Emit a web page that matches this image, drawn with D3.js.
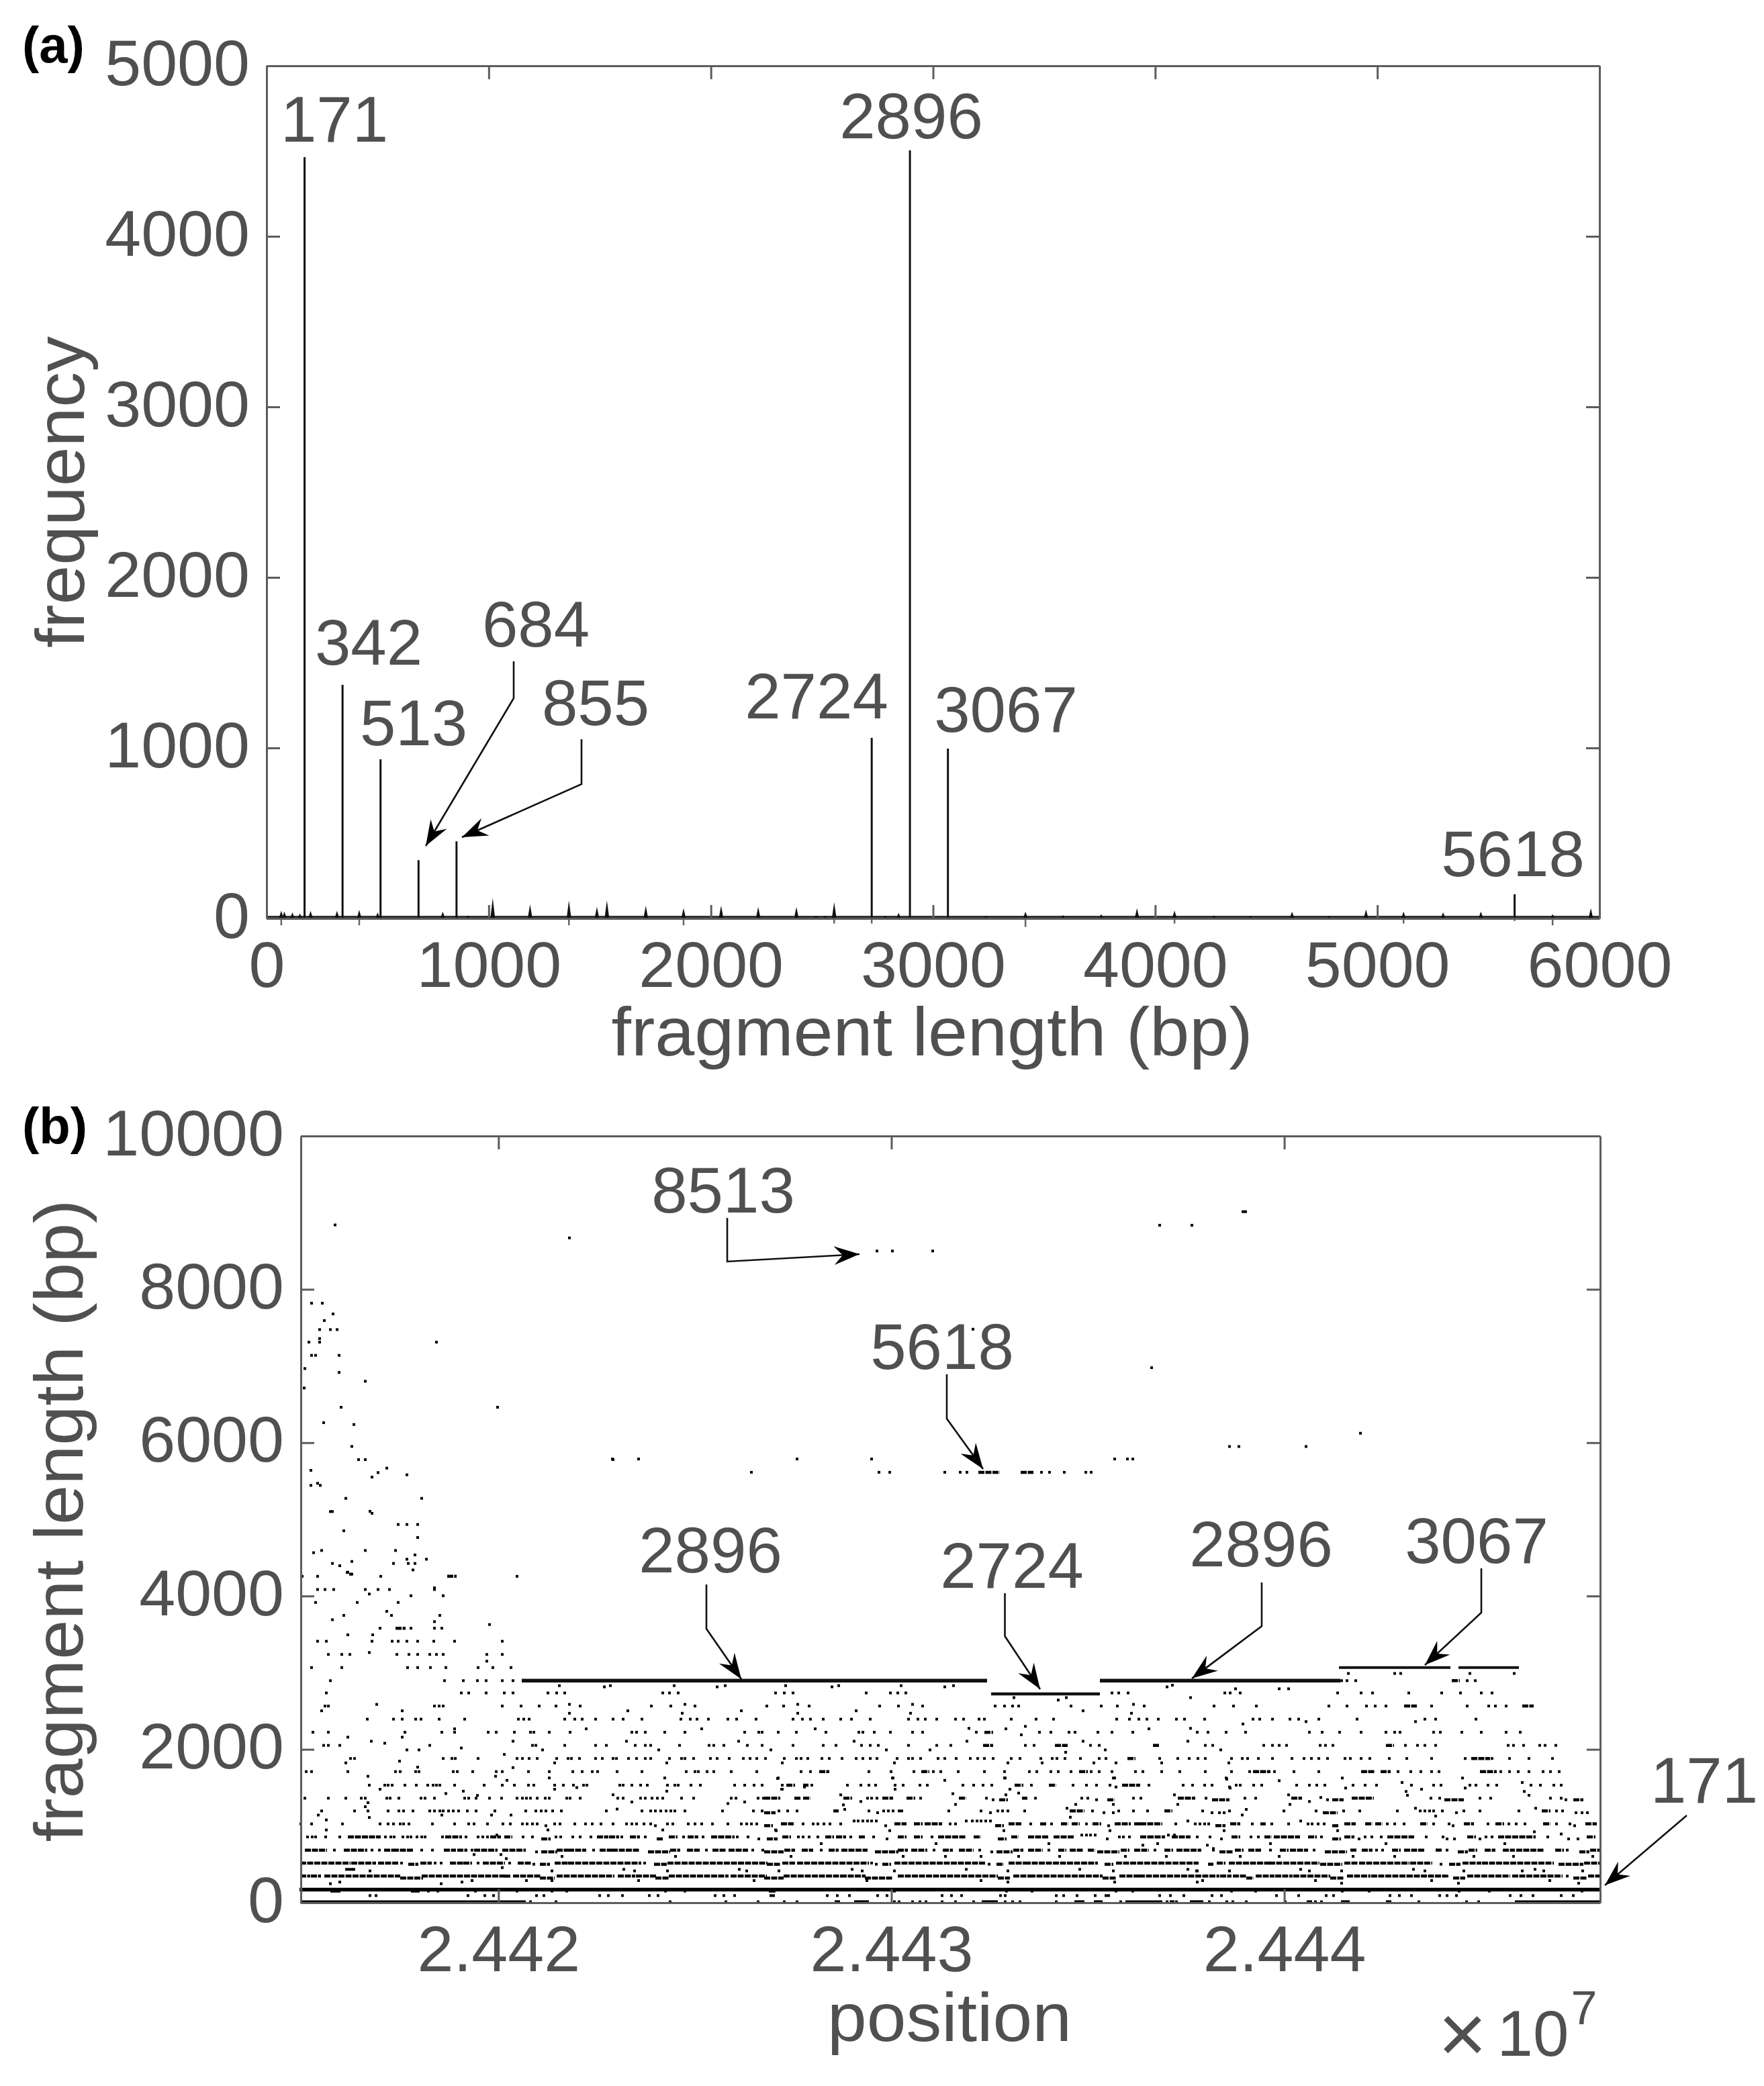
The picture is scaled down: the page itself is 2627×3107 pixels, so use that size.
<!DOCTYPE html>
<html>
<head>
<meta charset="utf-8">
<script src="https://cdn.jsdelivr.net/npm/d3@7"></script>
<style>
  body { margin: 0; background: #fff; }
  text { font-family: "Liberation Sans", Arial, sans-serif; fill: #505050; }
  .axis text { font-size: 97px; }
  .axis path, .axis line { stroke: #5c5c5c; stroke-width: 3; }
  .lab { font-size: 96px; }
  .title { font-size: 102px; }
  .panel { font-size: 76px; font-weight: bold; fill: #000; }
  .call { fill: none; stroke: #111; stroke-width: 2.6; }
</style>
</head>
<body>
<script>
var w = 2627, h = 3107;

// panel (a): tall peaks
var peakLengths = [171, 342, 513, 684, 855, 2724, 2896, 3067, 5618];
var peakFreqs = [4465, 1370, 933, 342, 452, 1059, 4504, 996, 142];
// panel (a): small peaks near the floor
var smallLengths = [66, 80, 116, 150, 198, 317, 417, 500, 793, 906, 1018, 1186, 1361, 1487, 1532, 1707, 1877, 2046, 2213, 2385, 2473, 2515, 2555, 2785, 2845, 3238, 3416, 3585, 3757, 3918, 4087, 4265, 4429, 4616, 4782, 4949, 5118, 5296, 5466, 5789, 5961];
var smallFreqs = [45, 40, 35, 30, 45, 45, 50, 35, 40, 18, 120, 83, 105, 68, 105, 75, 60, 75, 68, 68, 15, 15, 95, 15, 33, 15, 40, 20, 26, 60, 46, 18, 15, 40, 15, 52, 40, 36, 40, 26, 60];
var dipLengths = [66, 417, 1361, 1877, 2555, 2724, 3416, 4087, 5118, 5618, 5789];
var dipFreqs = [-40, -40, -40, -40, -30, -30, -50, -30, -30, -15, -40];
var floorLengths = [0, 6000];
var floorFreqs = [6, 6];

// panel (b): positions are in bins of a tenth of the 171 bp monomer, from the window start
var startPos = 24414970;
var binBp = 17.09;
var lastBin = 1935;

var plateauLengths = [2896, 2724, 2896, 3067, 3067];
var plateauStart = [329, 1028, 1190, 1546, 1724];
var plateauEnd = [1022, 1190, 1548, 1712, 1814];
var plateauWeight = [5.5, 4.5, 5.5, 4, 4];

var row0 = [[1,333],342,380,550,633,681,720,739,[797,801],[826,844],884,891,911,922,931,955,975,1002,[1016,1036],1049,1060,1071,1125,[1154,1165],[1183,1192],1221,[1230,1281],1290,[1296,1299],1304,[1326,1342],1353,1379,1388,1408,1466,[1500,1504],1511,1520,[1551,1560],[1618,1622],1665,1736,1754,[1810,1933]];
var row93 = [103,112,249,274,287,351,362,445,458,479,519,532,617,630,646,700,704,784,799,817,859,873,955,969,984,1042,1049,1125,1136,1156,1183,1199,1203,1279,1295,1315,1357,1371,1453,1486,1527,1538,1622,1636,1654,1696,1707,1721,1801,1817,1835,1877,1895];
var row152 = [[46,57],[166,175],190,204,260,322,374,396,543,572,[699,705],884,1051,1089,1214,1239,1386,1422,1551,1591,1725,1770,1908];
var row171 = [[0,1933]];
var row342 = [[1,12],[17,28],[37,146],[182,302],[305,311],[318,356],[383,465],[474,496],[501,528],[550,635],[642,692],[721,804],[806,839],[891,1036],[1063,1085],[1087,1192],[1221,1246],[1250,1366],[1371,1384],[1390,1406],[1424,1448],[1453,1475],[1480,1531],[1560,1591],[1596,1645],[1649,1703],1707,[1739,1799],[1806,1877],1886,[1919,1933]];
var row321 = [[150,180],[358,376],[530,546],[692,717],[842,880],[1040,1054],[1196,1212],[1410,1417],[1535,1551],[1718,1732],[1897,1913]];
var row517 = [[1,72],[77,110],[117,144],150,[180,193],200,209,[224,240],[244,253],264,[273,302],311,[325,342],[380,396],[400,505],512,[548,693],[719,734],[741,844],850,[886,1018],[1056,1076],[1080,1185],[1216,1335],[1366,1375],[1384,1442],[1444,1515],[1556,1573],[1578,1649],[1654,1683],[1732,1756],[1761,1864],[1913,1933]];
var row502 = [[162,173],347,[358,369],[528,543],[696,712],857,[868,877],1025,[1038,1045],[1199,1208],[1353,1357],[1520,1549],1698,[1712,1725],[1875,1908]];
var row686 = [[8,37],50,[66,97],106,117,[126,135],[139,166],180,196,[215,229],[235,246],255,[260,291],[302,333],[383,396],[400,423],436,[447,461],[465,503],[552,563],[577,592],604,[615,632],[639,664],673,688,[722,734],[748,761],775,[788,799],[807,842],[891,902],[911,931],943,[958,969],[982,1000],1011,[1063,1074],[1085,1103],1114,[1130,1138],[1147,1163],[1174,1181],[1223,1232],[1243,1261],1272,[1288,1297],[1306,1339],1359,[1393,1402],[1413,1428],1444,[1460,1469],[1475,1498],1509,[1565,1571],[1582,1594],1602,1611,[1627,1636],[1645,1672],[1692,1698],1707,[1741,1750],[1765,1777],[1792,1806],[1812,1850],[1870,1879],1886,[1922,1933]];
var row663 = [351,[360,380],[519,548],[692,717],[857,888],1029,[1038,1058],[1188,1217],[1370,1386],[1527,1556],[1725,1736],[1906,1917]];
var row858 = [10,17,22,37,58,[72,117],126,134,139,152,159,164,173,180,185,211,[217,238],246,264,271,278,[284,296],[305,313],331,345,380,387,405,416,432,[443,456],[461,472],478,[492,503],513,[550,559],570,[578,590],599,[613,644],650,666,[719,728],741,748,757,770,[783,792],[799,810],819,[833,839],853,[891,900],[915,924],940,[951,989],[1004,1011],[1060,1067],[1085,1112],[1123,1150],1219,1225,1234,[1252,1259],[1263,1285],[1299,1323],1335,1354,[1388,1397],1415,1426,[1437,1444],[1451,1486],[1502,1511],1520,[1556,1567],1585,1595,1609,[1620,1656],1676,1701,[1739,1748],1765,1774,[1785,1837],1857,[1917,1926]];
var row832 = [[360,370],[532,538],682,[696,708],873,[1040,1049],1201,1371,[1538,1547],1576,1707,1718,1756,1888,1902];
var row1028 = [0,16,62,118,130,138,148,153,161,196,229,250,258,278,301,312,330,337,345,352,378,386,408,424,434,447,465,485,493,500,511,521,546,554,577,587,597,613,636,656,664,671,679,[717,732],748,763,770,779,788,804,[886,900],[915,924],[931,953],967,975,[1056,1071],1087,[1103,1109],1118,[1134,1141],[1150,1158],1170,[1181,1190],[1214,1234],[1243,1251],[1252,1281],1303,1332,1339,1346,1352,[1386,1397],1417,[1431,1435],1446,1471,1500,1506,1515,1524,[1556,1569],[1587,1594],[1602,1609],1618,1629,1643,[1669,1676],1687,1710,[1734,1745],1768,[1781,1790],1799,1810,1823,[1852,1859],1870,1890,[1915,1928]];
var row1066 = [824,830,837,844,850,857,991,1000,1007,1013,1020,1027,1321,1489];
var row1004 = [365,528,[692,701],871,[1036,1045],1203,[1364,1375],[1538,1544],1716,1897];
var row1197 = [31,80,100,130,146,153,167,192,199,207,212,220,227,235,248,261,289,335,350,358,365,375,388,455,508,521,528,536,544,551,557,572,628,674,687,712,725,739,[795,799],846,868,875,882,891,895,965,1013,1038,1045,1053,1078,[1147,1165],1179,1218,1240,1261,[1288,1296],1343,1383,1464,1512,1553,1577,1633,1667,1674,1681,1687,1700,1732,1756,1814,[1850,1859],1870,1879];
var row1174 = [[692,705],859,1027,1196,1210,1357,1368,1375,[1524,1542],1721,1899,1908,1916];
var row1363 = [6,41,67,90,96,128,133,146,179,185,199,244,250,261,281,299,322,330,336,342,352,364,370,396,401,416,472,480,506,513,523,531,539,567,585,641,648,681,689,[692,712],[737,743],[750,757],[810,819],844,850,858,[868,880],[904,913],923,[982,989],1021,[1076,1080],1094,1163,1172,1240,1251,[1308,1330],1348,1406,1422,[1477,1489],[1567,1596],1683,1696,1756,1772,1861,1877];
var row1343 = [1031,[1042,1051],1185,[1203,1210],[1359,1381],1529,[1538,1551],[1705,1730],1884,[1897,1908]];
var row1533 = [102,125,130,136,155,172,189,197,202,207,229,273,300,318,339,347,378,391,406,421,426,475,480,493,506,516,546,557,562,581,595,646,661,675,687,717,[725,734],[750,754],761,814,834,846,856,885,897,922,933,986,1002,1016,1029,[1065,1074],1088,[1116,1123],1150,1170,1185,1205,[1225,1248],1263,1314,1328,1346,1357,1393,1399,1419,1431,1483,1502,1513,1525,1567,1585,1602,1654,1687,1698,1741,1750,1768,1781,1832,1846,1866,1877];
var row1710 = [8,16,70,141,148,171,176,227,233,256,291,300,339,370,405,419,434,442,471,508,574,587,592,605,615,641,679,745,759,[774,785],846,879,913,[926,934],942,953,979,1018,1048,1085,1096,1117,1128,1147,[1161,1170],1177,1189,1208,1243,1254,1282,1309,1347,1386,1413,[1420,1442],1450,1479,1516,[1581,1597],[1610,1621],1634,1653,1668,1684,1695,[1758,1779],1787,1800,1813,1829,1850,1861,1874];
var row1881 = [74,80,212,225,230,264,322,330,340,352,381,398,403,415,439,449,465,470,488,500,513,521,549,567,572,585,610,620,638,659,669,679,692,720,738,745,755,776,787,806,827,837,848,858,888,905,911,923,949,959,976,997,1008,1018,1031,1058,1071,1102,1119,1126,1138,1161,1189,1199,[1233,1241],1279,1306,1323,1336,1347,1386,1402,1410,1426,1447,1476,1494,1505,1516,1529,1555,1563,1579,1592,1621,1647,1684,1734,[1745,1769],1774,1800,1829,1864];
var row2052 = [34,41,58,192,345,350,393,439,455,498,513,521,564,608,615,630,665,687,733,778,797,835,848,860,905,947,968,[1018,1029],1079,1092,[1125,1140],1176,1189,[1271,1277],1347,1358,1434,1447,1457,1468,1518,1526,1537,[1618,1626],1645,1663,1674,1690,1798,1806,1821,1845,1853,1869];
var row2223 = [18,41,155,210,229,279,291,318,342,347,370,401,493,500,513,542,572,661,682,687,711,738,782,831,837,854,878,911,926,1006,[1020,1029],1100,1117,1144,1153,1187,1208,1239,1335,1351,1378,1407,1502,1521,1547,1579,1616,1629,1637,1687,1697,1729,1758,1795,1816];
var row2394 = [99,138,151,171,179,206,244,324,332,340,393,408,419,439,465,480,508,566,580,590,607,636,649,678,733,747,759,778,804,820,848,905,919,930,947,975,987,1010,1018,1058,1095,1121,1215,1234,1248,1260,1277,1304,1316,1346,1418,1428,1447,1473,1486,1516,1573,1674,1690,1750];
var row2565 = [36,41,199,206,212,300,328,355,380,416,522,551,587,694,719,757,862,890,926,1034,1048,1060,1069,1147,1192,1216,1256,1360,1389,1423,1531,1558,1587,1600,1616,[1645,1660],1684,1737,1769,1779,1795,[1821,1834]];
var row2736 = [38,239,250,276,303,316,368,381,393,539,549,562,707,720,733,842,878,889,901,1208,1218,1232,1376,1384,1399,1544,1579,1596,1650,1699,1727,1758,1774];
var row2896 = [44,214,242,263,276,300,316,1550,1558,1571,[1716,1724],1737,1749];
var row3067 = [16,61,159,174,193,216,264,286,313];
var row3238 = [41,61,73,143,161,174,192,202,212,277,300];
var row3410 = [25,38,106,136,145,158,174,198,229,300];
var row3580 = [118,[143,154],164,199,210];
var row3916 = [22,84,145];
var row4085 = [25,36,49,96,115,132,199];
var row4257 = [2,25,119,[220,230],322];
var row5614 = [671,861,877,959,982,992,[1011,1039],[1074,1089],1103,1115,1137,1169,1177];
var row5787 = [464,503,739,850,1212,1231,1239];

var rowLengths = [12, 93, 152, 171, 347, 321, 517, 502, 686, 663, 858, 832, 1028, 1066, 1004, 1197, 1174, 1363, 1343, 1533, 1710, 1881, 2052, 2223, 2394, 2565, 2736, 2896, 3067, 3238, 3410, 3580, 3916, 4085, 4257, 5614, 5787];
var rowPositions = [row0, row93, row152, row171, row342, row321, row517, row502, row686, row663, row858, row832, row1028, row1066, row1004, row1197, row1174, row1363, row1343, row1533, row1710, row1881, row2052, row2223, row2394, row2565, row2736, row2896, row3067, row3238, row3410, row3580, row3916, row4085, row4257, row5614, row5787];

// points off the periodic rows: [bin, fragment length]
var strayPoints = [
  [51,8840],[400,8671],[16,7819],[32,7819],[48,7679],[35,7593],[28,7475],[44,7475],[54,7475],[28,7358],[28,7311],[12,7311],[202,7311],[1001,7480],
  [16,7139],[22,7139],[57,7139],[6,6967],[57,6916],[96,6801],[5,6713],[60,6462],[293,6462],[34,6261],[79,6237],[1267,6978],[1578,6123],[1383,5950],[1397,5950],[1497,5950],
  [76,5951],[86,5779],[96,5779],[465,5779],[128,5668],[15,5639],[115,5610],[106,5551],[158,5581],[15,5443],[25,5470],[29,5443],[67,5274],[180,5274],
  [44,5102],[47,5102],[103,5105],[106,5079],[145,4933],[158,4933],[174,4933],[64,4851],[174,4763],[31,4594],[19,4565],[96,4594],[141,4594],[170,4536],
  [158,4480],[187,4480],[47,4425],[58,4395],[76,4451],[138,4425],[160,4425],[170,4425],[167,4340],[70,4311],[76,4285],
  [858,8500],[881,8500],[941,8500],[1279,8836],[1327,8836],[1403,9013],[1407,9013],
  [199,4107],[102,4026],[69,4307],[74,4285],[164,4004],[212,4004],[128,3800],[64,3747],[135,3747],[207,3747],[47,3691],[199,3666],[281,3628],[70,3494],[107,3494],[102,3263],[277,3150],
  [385,2831],[452,2815],[461,2831],[556,2831],[620,2815],[632,2831],[722,2831],[791,2815],[801,2831],[894,2831],[959,2815],[972,2831],[1062,2675],[1128,2643],[1140,2675],[1290,2815],[1298,2837],[1325,2675],
  [1392,2790],[1457,2790],[1471,2790],[1560,2990],[1629,2990],[1638,2990],[1741,2990],[1807,2990],
  [31,2503],[113,2587],[151,2503],[400,2587],[400,2471],[487,2503],[572,2587],[568,2471],[656,2503],[740,2587],[740,2471],[827,2503],[911,2587],[908,2471],[1165,2503],[1240,2587],[1237,2471],
  [70,2159],[151,2159],[229,2268],[425,2268],[597,2268],[766,2268],[995,2274],[1050,2268],[1073,2190],[1079,2300],[1263,2268],[1325,2274],[1403,2331],[1497,2362],[1660,2362],
  [105,2106],[125,2080],[158,1993],[176,1993],[239,2018],[316,2106],[360,1993],[485,2106],[533,1993],[652,2106],[700,1993],[824,2106],[872,1993],[937,1993],[992,2106],[1165,2106],[1198,1993],[1321,2106],[1370,1993],
  [67,1824],[147,1846],[303,1934],[378,1824],[545,1824],[717,1824],[884,1824],[1053,1824],[1104,1824],[1139,1962],[1181,1824],[1214,1824],[1282,1824],[1382,1824],
  [174,1768],[100,1649],[290,1649],[316,1762],[370,1627],[542,1627],[711,1627],[881,1627],[959,1596],[1048,1627],[1212,1627],[1378,1627],
  [118,1480],[307,1596],[242,1455],[378,1480],[411,1502],[545,1455],[716,1480],[710,1620],[717,1480],[750,1509],[882,1626],[885,1480],[1049,1626],[1056,1480],[1210,1626],[1214,1509],[1383,1509],[1379,1611],[1384,1495],[1457,1591],[1551,1626],[1556,1495],[1640,1568],[1669,1480],[1730,1626],[1734,1495],[1819,1568],
  [100,1305],[216,1424],[263,1399],[465,1408],[493,1314],[636,1293],[661,1314],[804,1407],[834,1320],[971,1422],[1050,1407],[1069,1430],[1301,1407],[1471,1407],[1502,1320],[1519,1372],[1646,1451],[1648,1401],[1822,1451],[1829,1401],
  [26,1143],[96,1252],[102,1111],[210,1143],[284,1143],[313,1143],[471,1221],[810,1217],[1141,1232],[1154,1282],[1210,1282],[808,1276],[975,1282],[1146,1115],[1306,1282],[1473,1282],[1402,1144],[1408,1217],[1660,1232],[1690,1130],[1839,1232],
  [38,1080],[38,949],[368,949],[539,949],[707,949],[708,940],[877,940],[1047,940],[1205,940],[1375,940],[1544,940],[1837,925],
  [292,882],[1163,882],[1170,882],[1176,882],[1183,882],[1292,882],[1301,882],[1877,896],
  [258,628],[298,628],[389,604],[558,604],[730,604],[897,604],[960,604],[1013,604],[1069,604],[1130,604],[1228,604],[1289,604],[1399,604],[1457,604],[1567,604],[1629,604],[1747,604],[1806,604],[1924,604],
  [775,771],[946,771],[1114,771],[1276,771],[1444,771],[1616,771],[1793,771],[1254,750],[1350,750],[1359,706],
  [68,435],[72,435],[76,435],[79,435],[481,435],[653,435],[821,435],[991,435],[1160,435],[1321,435],[1489,435],[1657,435],[1838,435],
  [103,415],[374,415],[497,415],[546,415],[664,415],[712,415],[836,415],[884,415],[1053,415],[1210,415],[1335,415],[1334,415],[1383,415],[1502,415],[1550,415],[1674,415],[1732,415],[1819,415],[1851,415],[1909,415],
  [300,458],[306,575],[255,289],[336,289],[374,289],[503,289],[675,289],[843,289],[1013,289],[1343,289],[1511,289],[1684,289],[1860,289],[1053,269],[1212,269],[1335,269],[1550,254],[1724,254],[1903,254],[44,248],[209,248],[58,269],[240,269]
];

var freqTicks = [0, 1000, 2000, 3000, 4000, 5000];
var lengthTicks = [0, 1000, 2000, 3000, 4000, 5000, 6000];
var fragTicks = [0, 2000, 4000, 6000, 8000, 10000];
var posTicks = [24420000, 24430000, 24440000];

var svg = d3.select("body").append("svg")
    .attr("width", w)
    .attr("height", h);

svg.append("rect").attr("width", w).attr("height", h).attr("fill", "#fff");

var xa = d3.scaleLinear().domain([0, 6000]).range([397, 2382]);
var ya = d3.scaleLinear().domain([0, 5000]).range([1368, 98]);
var xb = d3.scaleLinear().domain([startPos, startPos + lastBin * binBp]).range([448, 2383]);
var yb = d3.scaleLinear().domain([0, 10000]).range([2834, 1692]);
var binX = function(b) { return xb(startPos + b * binBp); };

// frame with inward ticks on all four sides
function frame(x, y, xTicks, yTicks, xFmt) {
  var x0 = x.range()[0], x1 = x.range()[1], y0 = y.range()[0], y1 = y.range()[1];
  svg.append("g").attr("class", "axis").attr("transform", "translate(0," + y0 + ")")
      .call(d3.axisBottom(x).tickValues(xTicks).tickFormat(xFmt).tickSizeInner(-20).tickSizeOuter(0).tickPadding(0))
      .selectAll("text").attr("y", 102).attr("dy", 0);
  svg.append("g").attr("class", "axis").attr("transform", "translate(0," + y1 + ")")
      .call(d3.axisTop(x).tickValues(xTicks).tickFormat("").tickSizeInner(-20).tickSizeOuter(0));
  svg.append("g").attr("class", "axis").attr("transform", "translate(" + x0 + ",0)")
      .call(d3.axisLeft(y).tickValues(yTicks).tickFormat(d3.format("d")).tickSizeInner(-20).tickSizeOuter(0).tickPadding(25))
      .selectAll("text").attr("dy", 28);
  svg.append("g").attr("class", "axis").attr("transform", "translate(" + x1 + ",0)")
      .call(d3.axisRight(y).tickValues(yTicks).tickFormat("").tickSizeInner(-20).tickSizeOuter(0));
}

// panel a marks
var floorLine = d3.line().x(function(d) { return xa(d); }).y(function(d, i) { return ya(floorFreqs[i]); });
svg.append("path").datum(floorLengths)
    .attr("d", floorLine)
    .attr("fill", "none")
    .attr("stroke", "#333")
    .attr("stroke-width", 5);

svg.append("g").selectAll("path").data(smallLengths).join("path")
    .attr("fill", "#111")
    .attr("d", function(d, i) {
      return "M" + (xa(d) - 3.5) + "," + ya(0) + "L" + xa(d) + "," + ya(smallFreqs[i]) + "L" + (xa(d) + 3.5) + "," + ya(0) + "Z";
    });

svg.append("g").selectAll("line").data(dipLengths).join("line")
    .attr("x1", function(d) { return xa(d); })
    .attr("x2", function(d) { return xa(d); })
    .attr("y1", ya(0))
    .attr("y2", function(d, i) { return ya(dipFreqs[i]); })
    .attr("stroke", "#666")
    .attr("stroke-width", 2.5);

svg.append("g").selectAll("line").data(peakLengths).join("line")
    .attr("x1", function(d) { return xa(d); })
    .attr("x2", function(d) { return xa(d); })
    .attr("y1", ya(0))
    .attr("y2", function(d, i) { return ya(peakFreqs[i]); })
    .attr("stroke", "#111")
    .attr("stroke-width", 3);

frame(xa, ya, lengthTicks, freqTicks, d3.format("d"));

// panel b marks
var dots = [], runs = [];
rowLengths.forEach(function(len, i) {
  rowPositions[i].forEach(function(p) {
    if (Array.isArray(p)) runs.push({a: p[0], b: p[1], len: len});
    else dots.push({b: p, len: len});
  });
});
strayPoints.forEach(function(p) { dots.push({b: p[0], len: p[1]}); });

svg.append("g").selectAll("rect").data(dots).join("rect")
    .attr("x", function(d) { return binX(d.b) - 2; })
    .attr("y", function(d) { return yb(d.len) - 2; })
    .attr("width", 4)
    .attr("height", 4)
    .attr("fill", "#000");

svg.append("g").selectAll("line").data(runs).join("line")
    .attr("x1", function(d) { return binX(d.a) - 2; })
    .attr("x2", function(d) { return binX(d.b) + 2; })
    .attr("y1", function(d) { return yb(d.len); })
    .attr("y2", function(d) { return yb(d.len); })
    .attr("stroke", "#000")
    .attr("stroke-width", function(d) { return d.len == 171 ? 5.5 : 4.5; })
    .attr("stroke-dasharray", function(d) { return d.len < 171 || d.len == 171 ? null : "9 1.5"; });

svg.append("g").selectAll("line").data(plateauLengths).join("line")
    .attr("x1", function(d, i) { return binX(plateauStart[i]); })
    .attr("x2", function(d, i) { return binX(plateauEnd[i]); })
    .attr("y1", function(d) { return yb(d); })
    .attr("y2", function(d) { return yb(d); })
    .attr("stroke", "#111")
    .attr("stroke-width", function(d, i) { return plateauWeight[i]; });

frame(xb, yb, posTicks, fragTicks, function(d) { return (d / 1e7).toFixed(3); });

// callouts
function callout(label, tx, ty, pts) {
  svg.append("path").attr("class", "call").attr("d", d3.line()(pts));
  var n = pts.length,
      tip = pts[n - 1],
      prev = pts[n - 2],
      a = Math.atan2(tip[1] - prev[1], tip[0] - prev[0]),
      at = function(back, side) {
        return [tip[0] - back * Math.cos(a) - side * Math.sin(a), tip[1] - back * Math.sin(a) + side * Math.cos(a)];
      };
  svg.append("path").attr("fill", "#000")
      .attr("d", d3.line()([tip, at(38, 14), at(25, 0), at(38, -14)]) + "Z");
  svg.append("text").attr("class", "lab").attr("text-anchor", "middle")
      .attr("x", tx).attr("y", ty).text(label);
}

function label(txt, x, y) {
  svg.append("text").attr("class", "lab").attr("text-anchor", "middle").attr("x", x).attr("y", y).text(txt);
}

label("171", 498, 211);
label("2896", 1357, 206);
label("342", 549, 990);
label("513", 616, 1110);
label("2724", 1216, 1070);
label("3067", 1498, 1090);
label("5618", 2253, 1305);
callout("684", 798, 963, [[765, 985], [765, 1040], [634, 1260]]);
callout("855", 887, 1080, [[866, 1101], [866, 1168], [688, 1247]]);

callout("8513", 1077, 1806, [[1083, 1814], [1083, 1879], [1280, 1868]]);
callout("5618", 1403, 2039, [[1410, 2047], [1410, 2113], [1464, 2188]]);
callout("2896", 1058, 2342, [[1052, 2360], [1052, 2426], [1104, 2501]]);
callout("2724", 1507, 2365, [[1496.5, 2373], [1496.5, 2437], [1549, 2516]]);
callout("2896", 1878, 2333, [[1879, 2357], [1879, 2422], [1775, 2500]]);
callout("3067", 2199, 2328, [[2206, 2336], [2206, 2402], [2122, 2480]]);
callout("171", 2538, 2685, [[2512, 2704], [2390, 2808]]);

// titles
svg.append("text").attr("class", "title").attr("text-anchor", "middle")
    .attr("x", 1388).attr("y", 1572)
    .attr("textLength", 955).attr("lengthAdjust", "spacingAndGlyphs")
    .text("fragment length (bp)");
svg.append("text").attr("class", "title").attr("text-anchor", "middle")
    .attr("transform", "translate(125,733) rotate(-90)")
    .attr("textLength", 464).attr("lengthAdjust", "spacingAndGlyphs")
    .text("frequency");
svg.append("text").attr("class", "title").attr("text-anchor", "middle")
    .attr("transform", "translate(123,2265) rotate(-90)")
    .attr("textLength", 957).attr("lengthAdjust", "spacingAndGlyphs")
    .text("fragment length (bp)");
svg.append("text").attr("class", "title").attr("text-anchor", "middle")
    .attr("x", 1414).attr("y", 3040)
    .attr("textLength", 364).attr("lengthAdjust", "spacingAndGlyphs")
    .text("position");

svg.append("text").attr("font-size", 125).attr("text-anchor", "middle").attr("x", 2178).attr("y", 3072).text("\u00d7");
label("10", 2283, 3062);
svg.append("text").attr("font-size", 70).attr("text-anchor", "middle").attr("x", 2359).attr("y", 3015).text("7");

svg.append("text").attr("class", "panel").attr("x", 33).attr("y", 93).text("(a)");
svg.append("text").attr("class", "panel").attr("x", 33).attr("y", 1703).text("(b)");
</script>
</body>
</html>
